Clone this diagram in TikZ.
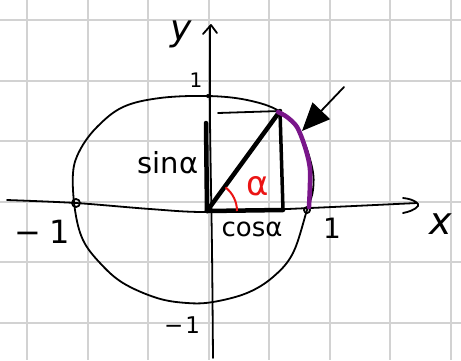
\documentclass[tikz,border=0pt]{standalone}
\usepackage{fontspec}
\setmainfont{DejaVu Sans}
\usetikzlibrary{arrows.meta}
\definecolor{gridgray}{RGB}{210,210,210}
\definecolor{arcpurple}{RGB}{122,22,138}
\definecolor{anglered}{RGB}{235,20,20}

\begin{document}
\begin{tikzpicture}[
    x=1pt, y=-1pt,
    gridline/.style={gridgray, line width=2pt},
    ink/.style={line width=1.8pt, line cap=round, line join=round},
    boldink/.style={line width=4.5pt, line cap=round, line join=round},
    tag/.style={inner sep=0pt, font=\fontsize{#1}{#1}\selectfont},
    tag/.default=26,
    pointer/.style={-{Triangle[length=28pt, width=24pt]}, line width=1.8pt, line cap=round}
]
\useasboundingbox (0,0) rectangle (461,360);
\fill[white] (0,0) rectangle (461,360);

% Grid paper
\foreach \gx in {27,87.5,...,460}
    \draw[gridline] (\gx,0) -- (\gx,360);
\foreach \gy in {20,80.5,...,360}
    \draw[gridline] (0,\gy) -- (461,\gy);

% Points of the triangle
\coordinate (O) at (207,211);
\coordinate (P) at (280,111);
\coordinate (F) at (283,210);
\coordinate (S) at (206,123);
\coordinate (Sy) at (218,113);

% Axes
\draw[ink] plot[smooth] coordinates {(7,200) (76,203) (150,209) (207,212) (310,208) (417,203)};
\draw[ink] (403,198) .. controls (414,199) and (420,204) .. (418,206) .. controls (415,210) and (408,212) .. (403,213);
\draw[ink] plot[smooth] coordinates {(213,358) (212,250) (210,120) (210,26)};
\draw[ink] (203,34) -- (211,25) -- (217,33);

% Unit circle
\draw[ink] plot[smooth cycle, tension=0.6] coordinates {
    (208,96) (247,100) (279,111) (300,133) (312,167) (313,190) (307,210)
    (293,253) (273,277) (247,293) (213,302) (187,303) (157,298) (123,283)
    (100,263) (83,240) (75,210) (73,173) (80,150) (97,127) (123,107) (160,98)};
\draw[ink] (76,203) circle[radius=4];
\draw[ink] (307,210) circle[radius=3];
\fill (208,96) circle[radius=2];

% Triangle
\draw[ink] (Sy) -- (P);
\draw[boldink] (O) -- (S);
\draw[boldink] (O) -- (F);
\draw[line width=3.5pt, line cap=round] (P) -- (F);
\draw[boldink] (O) -- (P);

% Arc and angle
\draw[arcpurple, line width=4.5pt, line cap=round] plot[smooth] coordinates {(278,112) (287,117) (297,127) (305,147) (310,170) (309,207)};
\draw[anglered, line width=2pt] (O) ++(0:30) arc[start angle=0, end angle=-52, radius=30];

% Pointer
\coordinate (tail) at (344,87);
\coordinate (tip) at (302,131);
\draw[pointer] (tail) -- (tip);

% Labels
\node[tag=36] (ylab) at (181,34) {\itshape y};
\node[tag=38] (xlab) at (441,224) {\itshape x};
\node[tag=20] (topone) at (196,80) {1};
\node[tag=29] (sinlab) at (168,163) {sinα};
\node[tag=26] (coslab) at (252,229) {cosα};
\node[tag=34, anglered] (alpha) at (258,186) {α};
\node[tag=32] (leftone) at (42,232) {−\hspace{8pt}1};
\node[tag=28] (rightone) at (332,228) {1};
\node[tag=23] (botone) at (182,325) {−\hspace{2pt}1};
\end{tikzpicture}
\end{document}
